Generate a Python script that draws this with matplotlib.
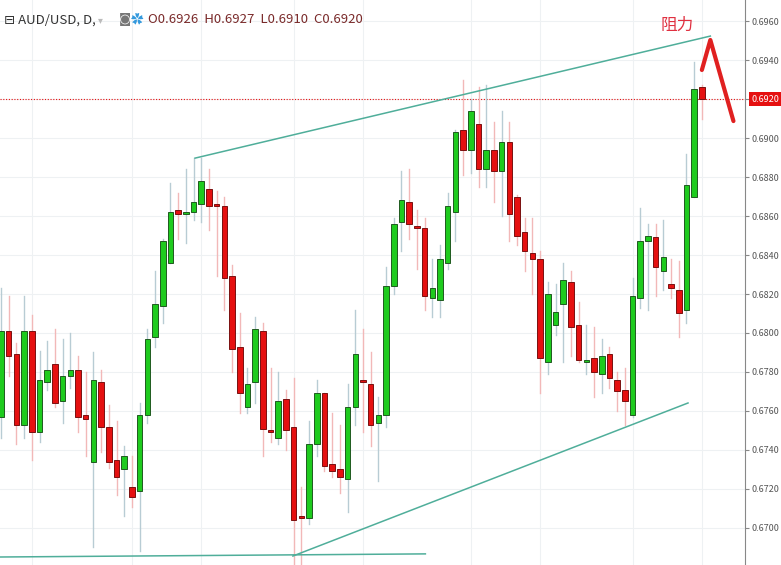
import matplotlib
matplotlib.use('Agg')
import matplotlib.pyplot as plt
from matplotlib.patches import Rectangle

plt.rcParams['font.family'] = ['Noto Sans CJK SC', 'DejaVu Sans']

# Velas diarias AUD/USD (en pips: 6801 -> 0.6801)
opens = [6757, 6801, 6789, 6753, 6801, 6749, 6775, 6784, 6765, 6778,
         6781, 6758, 6734, 6775, 6752, 6735, 6730, 6721, 6719, 6758,
         6798, 6814, 6836, 6863, 6861, 6862, 6866, 6874, 6866, 6865,
         6829, 6793, 6762, 6775, 6801, 6750, 6746, 6766, 6752, 6706,
         6705, 6743, 6769, 6733, 6730, 6725, 6762, 6776, 6774, 6754,
         6758, 6824, 6857, 6867, 6855, 6854, 6818, 6817, 6836, 6862,
         6904, 6894, 6907, 6884, 6894, 6883, 6898, 6870, 6852, 6841,
         6838, 6785, 6804, 6815, 6826, 6804, 6785, 6787, 6779, 6789,
         6776, 6771, 6758, 6818, 6847, 6849, 6832, 6825, 6822, 6812,
         6870, 6926]
highs = [6823, 6819, 6795, 6819, 6809, 6791, 6796, 6802, 6797, 6800,
         6788, 6780, 6790, 6781, 6763, 6755, 6742, 6737, 6764, 6802,
         6832, 6848, 6877, 6872, 6884, 6890, 6890, 6884, 6873, 6870,
         6835, 6810, 6782, 6808, 6805, 6782, 6780, 6771, 6777, 6721,
         6755, 6776, 6769, 6759, 6753, 6774, 6812, 6802, 6790, 6767,
         6834, 6859, 6883, 6884, 6863, 6859, 6838, 6845, 6872, 6904,
         6930, 6920, 6926, 6927, 6908, 6914, 6908, 6871, 6859, 6859,
         6842, 6826, 6825, 6836, 6832, 6816, 6804, 6803, 6797, 6793,
         6780, 6782, 6828, 6864, 6856, 6856, 6858, 6838, 6837, 6892,
         6939, 6927]
lows = [6746, 6778, 6743, 6746, 6735, 6744, 6771, 6762, 6754, 6772,
        6749, 6737, 6690, 6739, 6731, 6717, 6706, 6711, 6688, 6754,
        6793, 6805, 6836, 6848, 6846, 6858, 6857, 6853, 6829, 6812,
        6780, 6759, 6759, 6764, 6737, 6744, 6743, 6740, 6681, 6681,
        6702, 6737, 6729, 6726, 6718, 6708, 6753, 6749, 6742, 6724,
        6752, 6820, 6842, 6848, 6833, 6812, 6808, 6808, 6833, 6847,
        6881, 6882, 6875, 6875, 6867, 6860, 6847, 6845, 6832, 6820,
        6769, 6779, 6799, 6785, 6788, 6785, 6779, 6767, 6769, 6772,
        6760, 6753, 6757, 6813, 6812, 6819, 6822, 6818, 6798, 6805,
        6870, 6910]
closes = [6801, 6788, 6753, 6801, 6749, 6776, 6781, 6764, 6778, 6781,
          6757, 6756, 6776, 6752, 6734, 6726, 6737, 6716, 6758, 6797,
          6815, 6847, 6862, 6861, 6862, 6867, 6878, 6865, 6865, 6828,
          6792, 6769, 6774, 6802, 6751, 6749, 6765, 6750, 6704, 6705,
          6743, 6769, 6732, 6729, 6726, 6762, 6789, 6775, 6753, 6758,
          6824, 6856, 6868, 6856, 6854, 6819, 6823, 6838, 6865, 6903,
          6894, 6914, 6884, 6894, 6883, 6898, 6861, 6850, 6842, 6838,
          6787, 6820, 6811, 6827, 6803, 6786, 6786, 6780, 6788, 6777,
          6770, 6765, 6819, 6847, 6850, 6834, 6839, 6823, 6810, 6876,
          6925, 6920]

# Líneas de tendencia dibujadas (índice de vela, precio)
upper_line = ([25.2, 92.1], [0.68897, 0.69523])
lower_line = ([37.9, 89.2], [0.66856, 0.67641])
base_line = ([-0.2, 55.1], [0.66851, 0.66867])
arrow_x = [91.0, 92.1, 95.1]
arrow_y = [0.69349, 0.69503, 0.69087]
last_price = 0.6920
vgrid_idx = [4, 17, 26, 38, 47, 61, 70, 82, 91]
yticks = [0.6700 + 0.0020 * k for k in range(14)]

fig = plt.figure(figsize=(7.81, 5.65), dpi=100)
ax = fig.add_axes([0, 0, 745 / 781, 1])

green, red = '#1ecb1e', '#e51010'
for i, (o, h, l, c) in enumerate(zip(opens, highs, lows, closes)):
    o, h, l, c = o / 1e4, h / 1e4, l / 1e4, c / 1e4
    up = c >= o
    ax.plot([i, i], [l, h], color='#b8ccd4' if up else '#f2b8b8', lw=1, zorder=2)
    bottom = min(o, c)
    height = max(abs(c - o), 0.00005)
    ax.add_patch(Rectangle((i - 0.36, bottom), 0.72, height,
                           facecolor=green if up else red,
                           edgecolor='#1f5a1f' if up else '#7a1010', lw=0.7, zorder=3))

for xs, ys in (upper_line, lower_line, base_line):
    ax.plot(xs, ys, color='#4fae9a', lw=1.1, zorder=4)

ax.axhline(last_price, color='#e51010', lw=0.8, ls=(0, (1, 1.5)), zorder=1)
for g in vgrid_idx:
    ax.axvline(g, color='#eef1f3', lw=0.8, zorder=0)
for t in yticks:
    ax.axhline(t, color='#eef1f3', lw=0.8, zorder=0)

ax.set_xlim(-0.13, 96.6)
ax.set_ylim(0.66810, 0.69708)
ax.yaxis.tick_right()
ax.set_yticks(yticks)
# la etiqueta 0.6920 queda tapada por la del último precio
ax.set_yticklabels(['' if abs(t - last_price) < 1e-6 else f'{t:.4f}' for t in yticks],
                   fontsize=6.5, color='#555555')
ax.tick_params(axis='y', length=3, pad=2, color='#888888')
ax.set_xticks([])
for s in ('top', 'left', 'bottom'):
    ax.spines[s].set_visible(False)
ax.spines['right'].set_color('#888888')

# Etiqueta del último precio
ax.text(1.009, (last_price - 0.66810) / (0.69708 - 0.66810), '0.6920',
        transform=ax.transAxes, fontsize=6.5, color='white', va='center', ha='left',
        bbox=dict(boxstyle='square,pad=0.3', fc='#e51010', ec='none'))

# Flecha y texto de resistencia
ax.plot(arrow_x, arrow_y, color='#e02020', lw=3,
        solid_capstyle='round', solid_joinstyle='round', zorder=5)
ax.text(85.6, 0.6958, '阻力', color='#e03040', fontsize=12, ha='left', va='center')

# Cabecera
fig.text(0.005, 0.965, '⊟ AUD/USD, D,', fontsize=9.5, color='#333333', va='center')
fig.text(0.125, 0.965, '▾', fontsize=7, color='#bbbbbb', va='center')
fig.text(0.152, 0.965, '◙', fontsize=9, color='#777777', va='center')
fig.text(0.168, 0.965, '✿', fontsize=9, color='#3399dd', va='center')
fig.text(0.190, 0.965, 'O0.6926  H0.6927  L0.6910  C0.6920', fontsize=9.5,
         color='#7a2a2a', va='center')

fig.savefig('out.png', dpi=100, facecolor='white')
